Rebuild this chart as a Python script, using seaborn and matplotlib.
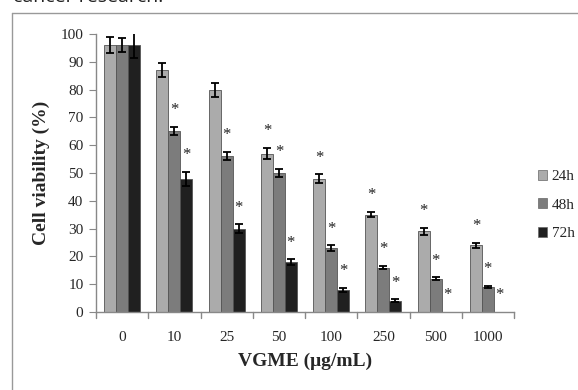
import matplotlib
matplotlib.use("Agg")
import matplotlib.pyplot as plt
from matplotlib.lines import Line2D
from matplotlib.patches import Patch
import seaborn as sns
import pandas as pd

concentrations = ["0", "10", "25", "50", "100", "250", "500", "1000"]
series = ["24h", "48h", "72h"]
v24 = [96, 87, 80, 57, 48, 35, 29, 24]
v48 = [96, 65, 56, 50, 23, 16, 12, 9]
v72 = [96, 48, 30, 18, 8, 4, 0, 0]
e24 = [3, 2.5, 2.5, 2, 1.5, 1, 1.2, 1]
e48 = [2.5, 1.5, 1.5, 1.5, 1, 0.5, 0.5, 0.5]
e72 = [4.5, 2.5, 1.5, 1, 0.7, 0.5, 0, 0]
star24 = [0, 0, 0, 1, 1, 1, 1, 1]
star48 = [0, 1, 1, 1, 1, 1, 1, 1]
star72 = [0, 1, 1, 1, 1, 1, 1, 1]
colors = ["#ababab", "#7c7c7c", "#202020"]

rows = []
for s, vals in zip(series, [v24, v48, v72]):
    for c, v in zip(concentrations, vals):
        rows.append({"conc": c, "time": s, "val": v})
df = pd.DataFrame(rows)

sns.set_style("white")
plt.rcParams["font.family"] = ["Liberation Serif", "DejaVu Serif"]

fig = plt.figure(figsize=(5.78, 3.9), dpi=100)
ax = fig.add_axes([96/578, 1-312/390, (514-96)/578, (312-34)/390])

sns.barplot(data=df, x="conc", y="val", hue="time", order=concentrations,
            hue_order=series, palette=colors, width=0.686, gap=0,
            errorbar=None, ax=ax, legend=False, linewidth=0.6, edgecolor="#555555")

errs = [e24, e48, e72]
stars = [star24, star48, star72]
patches = ax.patches
for hi in range(3):
    for ci in range(len(concentrations)):
        p = patches[hi*len(concentrations) + ci]
        xc = p.get_x() + p.get_width()/2
        h = p.get_height()
        e = errs[hi][ci]
        if e > 0:
            ax.errorbar(xc, h, yerr=e, fmt="none", ecolor="black", elinewidth=1.3,
                        capsize=3, capthick=1.3)
        if stars[hi][ci]:
            ax.text(xc, h + e + 6, "*", ha="center", va="center", fontsize=12, color="#222222")

ax.set_ylim(0, 100)
ax.set_xlim(-0.5, len(concentrations) - 0.5)
ax.set_yticks(range(0, 101, 10))
ax.tick_params(axis="y", labelsize=11, length=5, direction="out", left=True, color="#888888", pad=4)
ax.set_xticks(range(len(concentrations)))
ax.set_xticklabels(concentrations)
ax.tick_params(axis="x", labelsize=11, length=0, pad=14)
for b in [i - 0.5 for i in range(len(concentrations) + 1)]:
    ax.plot([b, b], [0, -2], color="#888888", lw=1, clip_on=False)
for s in ["top", "right"]:
    ax.spines[s].set_visible(False)
for s in ["left", "bottom"]:
    ax.spines[s].set_color("#888888")
    ax.spines[s].set_linewidth(1)

ax.set_ylabel("Cell viability (%)", fontsize=14, fontweight="bold", labelpad=8)
ax.set_xlabel("VGME (μg/mL)", fontsize=14, fontweight="bold", labelpad=6)

handles = [Patch(facecolor=c, edgecolor="#666666", linewidth=0.5, label=s) for c, s in zip(colors, series)]
fig.legend(handles=handles, loc="center left", bbox_to_anchor=(538/578, 1-205/390),
           frameon=False, fontsize=11, handlelength=0.6, handleheight=0.6,
           handletextpad=0.3, labelspacing=1.0, borderpad=0, borderaxespad=0)

fig.add_artist(Line2D([12/578, 12/578], [0, 1-13/390], color="#999999", lw=1))
fig.add_artist(Line2D([12/578, 1], [1-13/390, 1-13/390], color="#999999", lw=1))
fig.text(13/578, 1-2/390, "cancer research.", fontsize=14, family="Open Sans",
         ha="left", va="baseline", color="#222222")

fig.savefig("out.png", dpi=100)
